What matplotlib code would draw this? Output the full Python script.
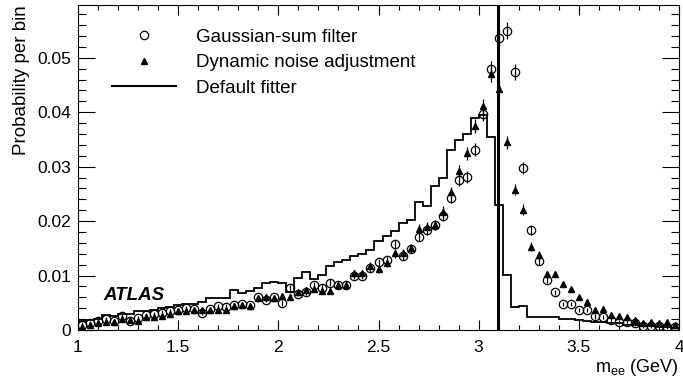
import matplotlib
matplotlib.use("Agg")
import matplotlib.pyplot as plt
import numpy as np
from matplotlib.lines import Line2D
from matplotlib.ticker import MultipleLocator

plt.rcParams['font.family'] = ['Liberation Sans', 'DejaVu Sans']

# binning of the m_ee distribution (GeV)
m_lo, m_hi, n_bins = 1.0, 4.0, 75
jpsi_mass = 3.097

# default fitter histogram, one value per bin
default_fitter = [
    0.0017, 0.0019, 0.0021, 0.0027, 0.0025, 0.0030, 0.0030, 0.0034, 0.0034, 0.0037,
    0.0040, 0.0043, 0.0046, 0.0048, 0.0048, 0.0052, 0.0058, 0.0058, 0.0058, 0.0074,
    0.0068, 0.0072, 0.0077, 0.0086, 0.0089, 0.0087, 0.0069, 0.0095, 0.0107, 0.0093,
    0.0101, 0.0118, 0.0124, 0.0129, 0.0136, 0.0140, 0.0147, 0.0163, 0.0172, 0.0181,
    0.0196, 0.0202, 0.0236, 0.0227, 0.0264, 0.0279, 0.0331, 0.0349, 0.0360, 0.0390,
    0.0395, 0.0355, 0.0230, 0.0101, 0.0042, 0.0044, 0.0023, 0.0023, 0.0024, 0.0024,
    0.0021, 0.0020, 0.0019, 0.0016, 0.0015, 0.0014, 0.0012, 0.0012, 0.0010, 0.0009,
    0.0008, 0.0007, 0.0006, 0.0005, 0.0004,
]

# Gaussian-sum filter (open circles)
gsf = [
    0.0010, 0.0013, 0.0016, 0.0020, 0.0017, 0.0025, 0.0016, 0.0022, 0.0027, 0.0029,
    0.0032, 0.0035, 0.0037, 0.0040, 0.0038, 0.0032, 0.0038, 0.0044, 0.0043, 0.0046,
    0.0048, 0.0046, 0.0061, 0.0056, 0.0060, 0.0050, 0.0077, 0.0067, 0.0070, 0.0083,
    0.0078, 0.0087, 0.0083, 0.0083, 0.0099, 0.0099, 0.0114, 0.0124, 0.0129, 0.0158,
    0.0136, 0.0149, 0.0171, 0.0184, 0.0192, 0.0210, 0.0243, 0.0276, 0.0281, 0.0331,
    0.0396, 0.0480, 0.0537, 0.0550, 0.0474, 0.0298, 0.0184, 0.0126, 0.0092, 0.0069,
    0.0048, 0.0048, 0.0037, 0.0037, 0.0025, 0.0024, 0.0018, 0.0015, 0.0015, 0.0012,
    0.0007, 0.0007, 0.0007, 0.0005, 0.0005,
]
gsf_err = [0.0004] * 25 + [
    0.0005, 0.0005, 0.0005, 0.0005, 0.0006, 0.0006, 0.0006, 0.0006, 0.0006, 0.0006,
    0.0006, 0.0007, 0.0007, 0.0007, 0.0008, 0.0008, 0.0008, 0.0008, 0.0009, 0.0009,
    0.0009, 0.0010, 0.0011, 0.0011, 0.0012, 0.0013, 0.0014, 0.0015, 0.0015, 0.0014,
    0.0011, 0.0009, 0.0007, 0.0006, 0.0005,
] + [0.0004] * 15

# dynamic noise adjustment (filled triangles)
dna = [
    0.0005, 0.0009, 0.0012, 0.0015, 0.0014, 0.0020, 0.0019, 0.0017, 0.0023, 0.0024,
    0.0025, 0.0030, 0.0034, 0.0034, 0.0037, 0.0036, 0.0036, 0.0037, 0.0036, 0.0044,
    0.0046, 0.0044, 0.0058, 0.0060, 0.0058, 0.0063, 0.0061, 0.0069, 0.0074, 0.0075,
    0.0071, 0.0072, 0.0083, 0.0083, 0.0104, 0.0104, 0.0117, 0.0112, 0.0123, 0.0141,
    0.0141, 0.0150, 0.0185, 0.0189, 0.0193, 0.0217, 0.0253, 0.0292, 0.0325, 0.0374,
    0.0412, 0.0470, 0.0443, 0.0345, 0.0258, 0.0221, 0.0153, 0.0137, 0.0102, 0.0103,
    0.0084, 0.0076, 0.0060, 0.0052, 0.0036, 0.0038, 0.0028, 0.0025, 0.0024, 0.0018,
    0.0013, 0.0015, 0.0012, 0.0015, 0.0009,
]
dna_err = [0.0004] * 25 + [
    0.0005, 0.0005, 0.0005, 0.0005, 0.0005, 0.0005, 0.0005, 0.0006, 0.0006, 0.0006,
    0.0006, 0.0007, 0.0007, 0.0007, 0.0008, 0.0008, 0.0008, 0.0009, 0.0009, 0.0009,
    0.0010, 0.0010, 0.0011, 0.0012, 0.0013, 0.0013, 0.0014, 0.0014, 0.0012, 0.0010,
    0.0010, 0.0008, 0.0008, 0.0006, 0.0006,
] + [0.0004] * 15

edges = np.linspace(m_lo, m_hi, n_bins + 1)
centres = 0.5 * (edges[:-1] + edges[1:])

fig = plt.figure(figsize=(6.83, 3.81), dpi=100)
ax = fig.add_axes([78 / 683, 51 / 381, 601 / 683, 325 / 381])

ax.stairs(default_fitter, edges, color='black', linewidth=1.3, zorder=2)
ax.errorbar(centres, dna, yerr=dna_err, fmt='^', ms=5, mfc='black', mec='black',
            ecolor='black', elinewidth=0.9, capsize=0, zorder=3)
ax.errorbar(centres, gsf, yerr=gsf_err, fmt='o', ms=6, mfc='none', mec='black',
            mew=0.9, ecolor='black', elinewidth=0.9, capsize=0, zorder=4)
ax.axvline(jpsi_mass, color='black', linewidth=2.2, zorder=5)

ax.set_xlim(m_lo, m_hi)
ax.set_ylim(0, 0.0597)
ax.set_xticks([1, 1.5, 2, 2.5, 3, 3.5, 4])
ax.set_xticklabels(['1', '1.5', '2', '2.5', '3', '3.5', '4'])
ax.xaxis.set_minor_locator(MultipleLocator(0.1))
ax.set_yticks([0, 0.01, 0.02, 0.03, 0.04, 0.05])
ax.set_yticklabels(['0', '0.01', '0.02', '0.03', '0.04', '0.05'])
ax.yaxis.set_minor_locator(MultipleLocator(0.002))

ax.tick_params(which='both', direction='in', top=True, right=True,
               labelsize=12.5, width=0.8)
ax.tick_params(axis='x', which='major', length=7.5, pad=7)
ax.tick_params(axis='x', which='minor', length=3.8)
ax.tick_params(axis='y', which='major', length=12, pad=5)
ax.tick_params(axis='y', which='minor', length=6)
for s in ax.spines.values():
    s.set_linewidth(0.8)

ax.set_xlabel(r'$\mathregular{m_{ee}}$ (GeV)', fontsize=13, loc='right', labelpad=2)
ax.set_ylabel('Probability per bin', fontsize=13.5, loc='top', labelpad=5)

ax.text(0.042, 0.105, 'ATLAS', transform=ax.transAxes, fontsize=13.5,
        fontweight='bold', fontstyle='italic', va='center', ha='left')

handles = [
    Line2D([], [], marker='o', ms=6, mfc='none', mec='black', mew=0.9, ls='none'),
    Line2D([], [], marker='^', ms=5, mfc='black', mec='black', ls='none'),
    Line2D([], [], color='black', linewidth=1.5),
]
labels = ['Gaussian-sum filter', 'Dynamic noise adjustment', 'Default fitter']
ax.legend(handles, labels, loc='upper left', bbox_to_anchor=(0.0566, 0.927),
          frameon=False, fontsize=13.5, handlelength=3.4, handletextpad=1.1,
          labelspacing=0.45, borderpad=0, borderaxespad=0)

fig.savefig('out.png', dpi=100)
